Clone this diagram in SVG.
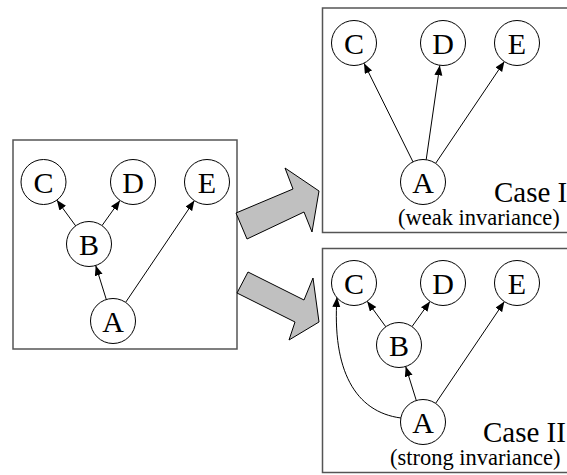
<svg xmlns="http://www.w3.org/2000/svg" width="567" height="475" viewBox="0 0 567 475">
<defs>
<marker id="ah" markerUnits="userSpaceOnUse" markerWidth="11" markerHeight="9" refX="10" refY="4" orient="auto">
<path d="M0,0 L10,4 L0,8 z" fill="#000"/>
</marker>
<style>
.frame{fill:#fff;stroke:#555;stroke-width:1.5}
.node circle{fill:#fff;stroke:#000;stroke-width:1}
.node text{font-family:"Liberation Serif","Times New Roman",serif;font-size:30px;text-anchor:middle;fill:#000}
.edge{fill:none;stroke:#000;stroke-width:1;marker-end:url(#ah)}
.big{fill:#c0c0c0;stroke:#000;stroke-width:1;stroke-linejoin:miter}
.case{font-family:"Liberation Serif","Times New Roman",serif;font-size:29px;fill:#000}
.sub{font-family:"Liberation Serif","Times New Roman",serif;font-size:22.5px;fill:#000}
</style>
</defs>
<rect width="567" height="475" fill="#fff"/>
<rect class="frame" x="13" y="140" width="224" height="209"/>
<rect class="frame" x="322.5" y="8" width="260" height="224.5"/>
<rect class="frame" x="322.5" y="248.5" width="260" height="224"/>
<g id="bigarrows">
<polygon class="big" points="236,213 293,189 285,168 319,191 312,232 304,212 247,239"/>
<polygon class="big" points="248,272 304,300 313,278 319,322 289,340 295,322 237,293"/>
</g>
<g id="connectors">
<line class="edge" x1="75.7" y1="225.9" x2="56.8" y2="200.1"/>
<line class="edge" x1="102" y1="225.6" x2="120" y2="200.4"/>
<line class="edge" x1="106.3" y1="299.5" x2="95.7" y2="265.5"/>
<line class="edge" x1="125.6" y1="302.4" x2="194.4" y2="200.6"/>
<line class="edge" x1="413" y1="161.9" x2="364" y2="63.2"/>
<line class="edge" x1="426.2" y1="159.7" x2="439.8" y2="65.3"/>
<line class="edge" x1="435.6" y1="163.4" x2="504.4" y2="61.4"/>
<line class="edge" x1="385.8" y1="326.8" x2="367.2" y2="301.2"/>
<line class="edge" x1="412" y1="326.6" x2="430" y2="301.4"/>
<line class="edge" x1="416.3" y1="400.5" x2="405.7" y2="366.5"/>
<line class="edge" x1="435.6" y1="403.4" x2="504.4" y2="301.6"/>
<path class="edge" d="M401,418 C355,412 332,370 337,297"/>
</g>
<g id="L_C" class="node"><circle cx="43.5" cy="182" r="22.5"/><text x="43.5" y="192.5">C</text></g>
<g id="L_D" class="node"><circle cx="133" cy="182" r="22.5"/><text x="133" y="192.5">D</text></g>
<g id="L_E" class="node"><circle cx="207" cy="182" r="22.5"/><text x="207" y="192.5">E</text></g>
<g id="L_B" class="node"><circle cx="89" cy="244" r="22.5"/><text x="89" y="254.5">B</text></g>
<g id="L_A" class="node"><circle cx="113" cy="321" r="22.5"/><text x="113" y="331.5">A</text></g>
<g id="U_C" class="node"><circle cx="354" cy="43" r="22.5"/><text x="354" y="53.5">C</text></g>
<g id="U_D" class="node"><circle cx="443" cy="43" r="22.5"/><text x="443" y="53.5">D</text></g>
<g id="U_E" class="node"><circle cx="517" cy="43" r="22.5"/><text x="517" y="53.5">E</text></g>
<g id="U_A" class="node"><circle cx="423" cy="182" r="22.5"/><text x="423" y="192.5">A</text></g>
<g id="D_C" class="node"><circle cx="354" cy="283" r="22.5"/><text x="354" y="293.5">C</text></g>
<g id="D_D" class="node"><circle cx="443" cy="283" r="22.5"/><text x="443" y="293.5">D</text></g>
<g id="D_E" class="node"><circle cx="517" cy="283" r="22.5"/><text x="517" y="293.5">E</text></g>
<g id="D_B" class="node"><circle cx="399" cy="345" r="22.5"/><text x="399" y="355.5">B</text></g>
<g id="D_A" class="node"><circle cx="423" cy="422" r="22.5"/><text x="423" y="432.5">A</text></g>
<text class="case" x="494" y="202">Case I</text>
<text class="sub" x="398" y="225">(weak invariance)</text>
<text class="case" x="483" y="442">Case II</text>
<text class="sub" x="390" y="465">(strong invariance)</text>
</svg>
